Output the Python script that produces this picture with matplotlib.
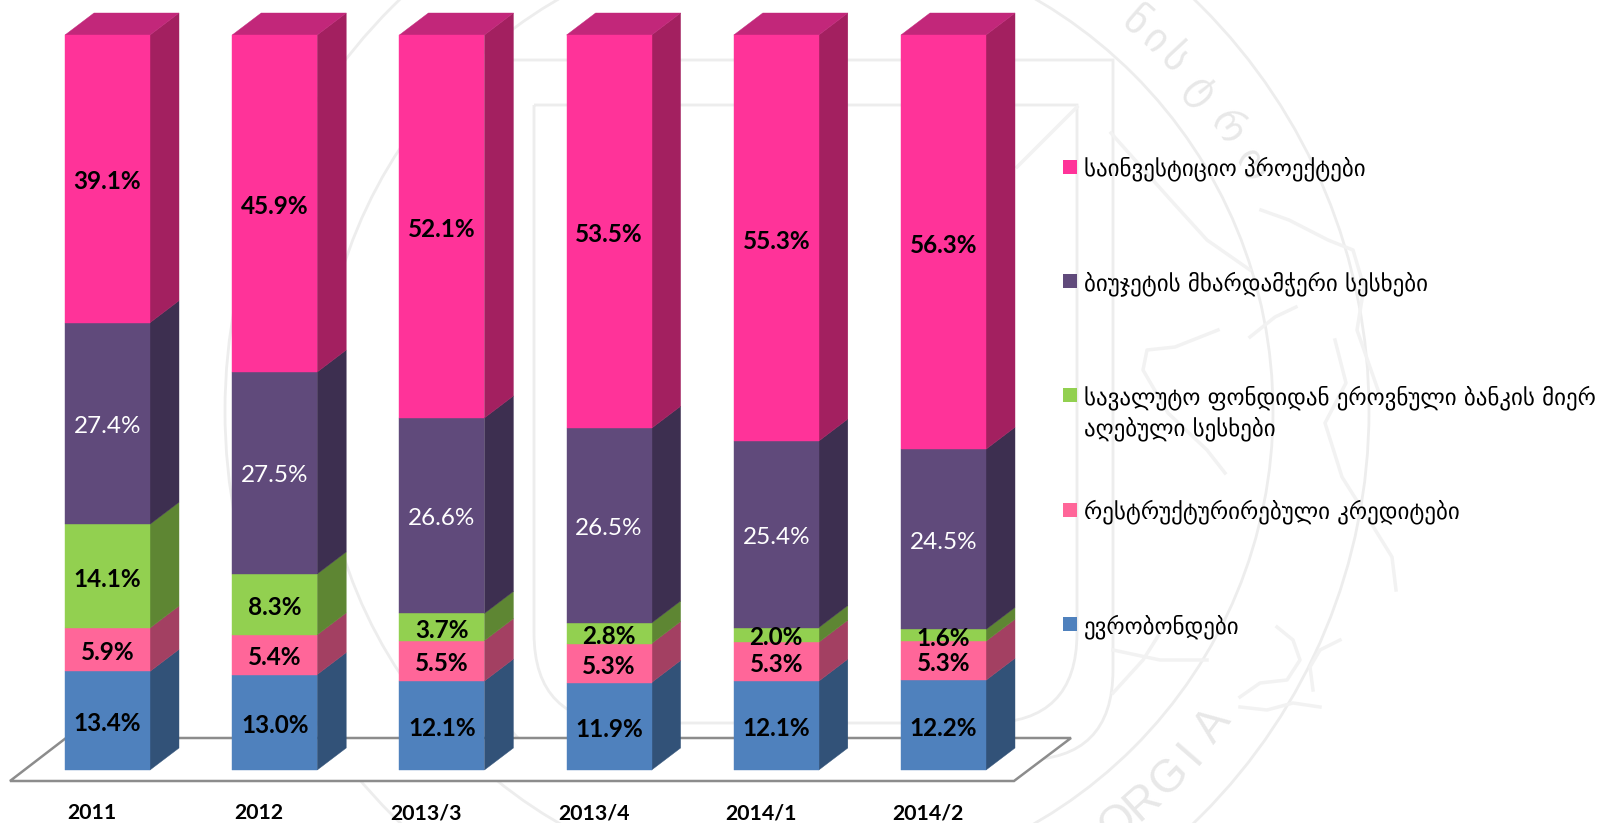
import numpy as np
import matplotlib
matplotlib.use('Agg')
import matplotlib.pyplot as plt
from matplotlib.patches import Circle, PathPatch, Polygon, Rectangle
from matplotlib.path import Path
from matplotlib.transforms import Affine2D

W, H = 1598, 823

periods = ['2011', '2012', '2013/3', '2013/4', '2014/1', '2014/2']

eurobonds = [13.4, 13.0, 12.1, 11.9, 12.1, 12.2]
restructured = [5.9, 5.4, 5.5, 5.3, 5.3, 5.3]
reserve_fund = [14.1, 8.3, 3.7, 2.8, 2.0, 1.6]
budget_support = [27.4, 27.5, 26.6, 26.5, 25.4, 24.5]
investment = [39.1, 45.9, 52.1, 53.5, 55.3, 56.3]

series = [eurobonds, restructured, reserve_fund, budget_support, investment]
front = ['#4F81BD', '#FF6699', '#92D050', '#604A7B', '#FF3399']
side = ['#325278', '#A34062', '#5E8633', '#3D2F50', '#A32060']
top_col = '#C2277A'
label_col = ['black', 'black', 'black', 'white', 'black']
label_weight = ['bold', 'bold', 'bold', 'normal', 'bold']

legend_labels = [
    'საინვესტიციო პროექტები',
    'ბიუჯეტის მხარდამჭერი სესხები',
    'სავალუტო ფონდიდან ეროვნული ბანკის მიერ\nაღებული სესხები',
    'რესტრუქტურირებული კრედიტები',
    'ევრობონდები',
]
legend_colors = ['#FF3399', '#604A7B', '#92D050', '#FF6699', '#4F81BD']

# rough strokes of the lion in the watermark, in reference pixels
lion_strokes = [
    [(1261, 210), (1289, 220), (1328, 240), (1353, 250), (1364, 287), (1357, 330), (1371, 370), (1378, 390)],
    [(1335, 340), (1346, 383), (1325, 423), (1342, 477), (1371, 523), (1392, 557), (1396, 590)],
    [(1218, 330), (1175, 347), (1147, 350), (1143, 370), (1168, 413), (1207, 450), (1225, 473)],
    [(1111, 133), (1168, 197), (1207, 240), (1250, 270)],
    [(1250, 337), (1275, 317), (1296, 307)],
    [(1240, 697), (1260, 683), (1287, 680), (1300, 660), (1293, 640), (1277, 627)],
    [(1313, 690), (1310, 667), (1320, 650), (1340, 640)],
    [(1240, 707), (1267, 710), (1293, 703), (1320, 707)],
    [(1113, 693), (1143, 660), (1160, 633)],
    [(1113, 650), (1160, 660), (1207, 660)],
    [(1077, 107), (1017, 167)],
]

plt.rcParams['font.family'] = ['Lato', 'DejaVu Sans']

fig = plt.figure(figsize=(W / 100, H / 100), dpi=100)
ax = fig.add_axes([0, 0, 1, 1])

# one category = 167.2 px, one percent = 7.35 px
ux, uy = 167.2, 7.35
ax.set_xlim(-107.5 / ux, (W - 107.5) / ux)
ax.set_ylim((770 - H) / uy, 770 / uy)
ax.axis('off')

# pixel coordinates measured from the top left, for the non data parts
px = Affine2D().scale(1, -1).translate(0, H)


def shield(x0, y0, x1, y1, r):
    # square top, rounded bottom
    verts = [(x0, y0), (x0, y1 - r), (x0, y1), (x0 + r, y1), (x1 - r, y1), (x1, y1), (x1, y1 - r), (x1, y0), (x0, y0)]
    codes = [Path.MOVETO, Path.LINETO, Path.CURVE3, Path.CURVE3, Path.LINETO,
             Path.CURVE3, Path.CURVE3, Path.LINETO, Path.LINETO]
    return Path(verts, codes)


# faint seal behind the chart
seal = '#EDEDED'
for r in (476, 572):
    ax.add_patch(Circle((797, 411), r, fc='none', ec=seal, lw=2, transform=px, zorder=0))
ax.add_patch(PathPatch(shield(495, 60, 1113, 760, 90), fc='none', ec=seal, lw=2, transform=px, zorder=0))
ax.add_patch(PathPatch(shield(534, 105, 1077, 723, 90), fc='none', ec=seal, lw=2, transform=px, zorder=0))
for stroke in lion_strokes:
    sx, sy = zip(*stroke)
    ax.plot(sx, sy, color='#F2F2F2', lw=2.5, solid_joinstyle='round', transform=px, zorder=0)
for ch, ang in zip('ნისტრო', [49, 46, 43, 38.5, 33.5, 28.5]):
    t = np.radians(ang)
    ax.text(797 + 515 * np.cos(t), 411 - 515 * np.sin(t), ch, transform=px, color='#E8E8E8',
            fontsize=29, family='DejaVu Sans', rotation=ang - 90, ha='center', va='center', zorder=0)
for ch, ang in zip('ORGIA', [-52, -48.5, -44.5, -41, -37]):
    t = np.radians(ang)
    ax.text(797 + 522 * np.cos(t), 411 - 522 * np.sin(t), ch, transform=px, color='#E8E8E8',
            fontsize=33, family='Liberation Sans', rotation=ang + 90, ha='center', va='center', zorder=0)

# floor
ax.add_patch(Polygon([(10, 781), (66, 738), (1071, 738), (1014, 781)], closed=True,
                     fc='white', ec='#8C8C8C', lw=1.8, transform=px, zorder=1))

width = 85 / ux
dx, dy = 29 / ux, 22 / uy
x = np.arange(len(periods))
bottom = np.zeros(len(periods))
totals = np.sum(series, axis=0)

for k, vals in enumerate(series):
    # 100% stacked, the printed shares are rounded
    h = np.array(vals) / totals * 100
    ax.bar(x, h, width, bottom=bottom, color=front[k], edgecolor=front[k], lw=0.3, zorder=3)
    for i in x:
        r = i + width / 2
        ax.add_patch(Polygon([(r, bottom[i]), (r + dx, bottom[i] + dy),
                              (r + dx, bottom[i] + h[i] + dy), (r, bottom[i] + h[i])],
                             closed=True, fc=side[k], ec=side[k], lw=0.3, zorder=2))
        ax.text(i, bottom[i] + h[i] / 2 - 3 / uy, f'{vals[i]:.1f}%', color=label_col[k],
                fontweight=label_weight[k], fontsize=17.5, ha='center', va='center', zorder=5)
    bottom = bottom + h

for i in x:
    l, r = i - width / 2, i + width / 2
    ax.add_patch(Polygon([(l, bottom[i]), (l + dx, bottom[i] + dy),
                          (r + dx, bottom[i] + dy), (r, bottom[i])],
                         closed=True, fc=top_col, ec=top_col, lw=0.3, zorder=2))
    # year labels sit a little left of their bars
    ax.text(i - 15.5 / ux, (770 - 813) / uy, periods[i], fontweight='bold', fontsize=15.3,
            ha='center', va='center', color='black')

# legend, evenly spaced whatever the number of lines
for k, (lab, col) in enumerate(zip(legend_labels, legend_colors)):
    y = 167 + 114.2 * k
    ax.add_patch(Rectangle((1063, y - 7), 14, 14, fc=col, ec='none', transform=px, zorder=4))
    ax.text(1084, y - 10, lab, transform=px, family='DejaVu Sans', fontsize=16.5, color='black',
            ha='left', va='top', linespacing=1.35, zorder=4)

fig.savefig('out.png', dpi=100)
